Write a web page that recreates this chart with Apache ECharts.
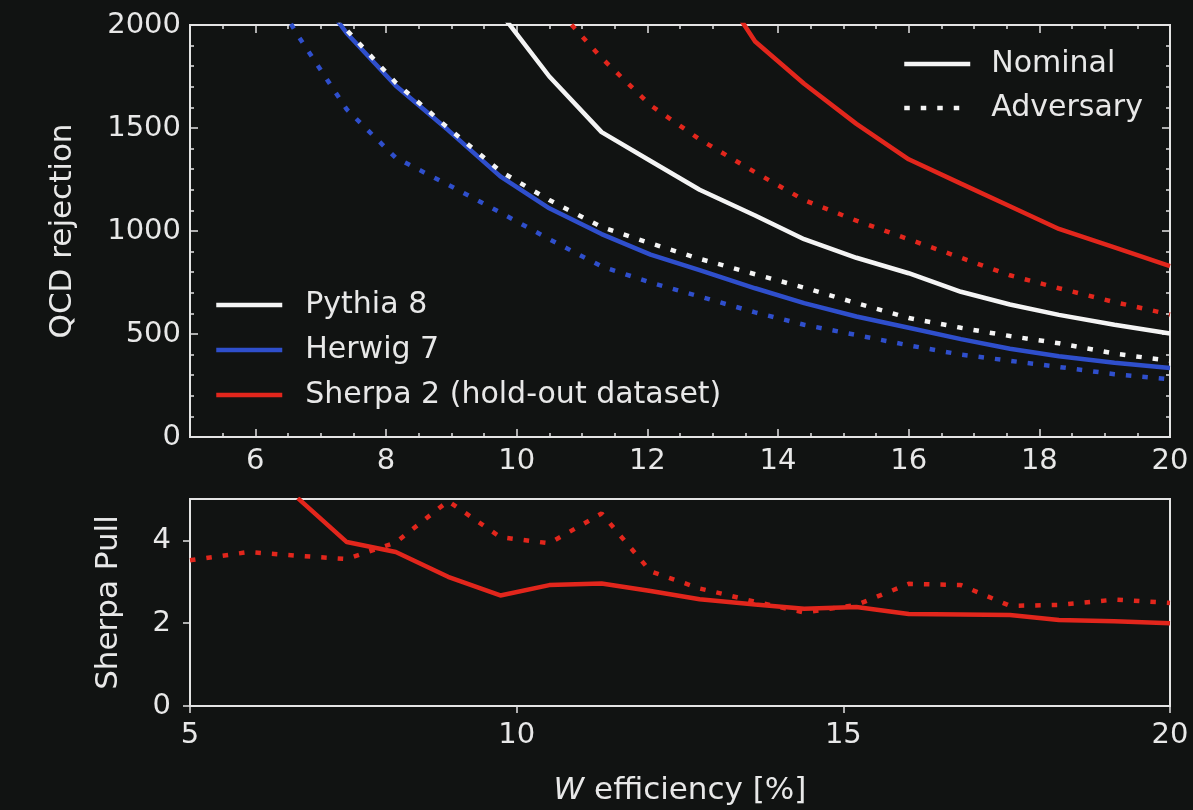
<!DOCTYPE html>
<html>
<head>
<meta charset="utf-8">
<script src="https://cdn.jsdelivr.net/npm/echarts@6/dist/echarts.min.js"></script>
<style>
  html, body { margin: 0; padding: 0; background: #111312; }
  #chart { width: 1193px; height: 810px; }
</style>
</head>
<body>
<div id="chart"></div>
<script>
// W efficiency [%] sample points shared by all curves
const effGrid = [5.0, 5.9, 6.65, 7.4, 8.15, 8.95, 9.75, 10.5, 11.3, 12.05, 12.8, 13.65, 14.4, 15.2, 16.0, 16.8, 17.55, 18.3, 19.15, 20.0]

// QCD rejection, nominal training
const pythiaNominal = [null, null, null, null, null, null, 2060, 1750, 1480, 1340, 1200, 1075, 960, 870, 795, 705, 643, 593, 545, 502]
const herwigNominal = [null, null, 2280, 1960, 1705, 1490, 1265, 1110, 985, 885, 810, 722, 650, 585, 530, 475, 428, 392, 360, 335]
const sherpaNominal = [null, null, null, null, null, null, null, null, null, null, 2330, 1920, 1715, 1520, 1348, 1230, 1120, 1010, 920, 830]

// QCD rejection, adversarial training
const pythiaAdversary = [null, null, 2290, 1975, 1720, 1500, 1290, 1150, 1020, 940, 865, 790, 725, 650, 578, 530, 490, 455, 405, 370]
const herwigAdversary = [null, 2350, 1950, 1590, 1355, 1225, 1090, 960, 828, 750, 682, 605, 545, 495, 445, 400, 370, 340, 305, 280]
const sherpaAdversary = [null, null, null, null, null, null, null, 2120, 1840, 1610, 1445, 1285, 1150, 1050, 960, 870, 785, 722, 655, 595]

// Sherpa pull
const pullNominal = [null, null, 5.02, 3.96, 3.72, 3.12, 2.67, 2.92, 2.96, 2.78, 2.58, 2.45, 2.35, 2.39, 2.22, 2.21, 2.2, 2.08, 2.05, 2.0]
const pullAdversary = [3.52, 3.72, 3.63, 3.55, 3.95, 4.95, 4.08, 3.93, 4.65, 3.25, 2.84, 2.52, 2.26, 2.44, 2.95, 2.92, 2.42, 2.44, 2.57, 2.49]

// tick labels
const topXTicks = [6, 8, 10, 12, 14, 16, 18, 20]
const bottomXTicks = [5, 10, 15, 20]
const pullTicks = [0, 2, 4]

const FONT = 'DejaVu Sans'
const TXT = '#e8e8e8'
const FRAME = '#e4e4e4'
const WHITE = '#f4f4f4'
const BLUE = '#2f4fcc'
const RED = '#e2261c'
const DOTS = [5.5, 11]

function pairs(vals) {
  const out = []
  vals.forEach((v, i) => {
    if (v != null) out.push([effGrid[i], v])
  })
  return out
}

function curve(name, vals, color, dotted, xi, yi) {
  return {
    name: name,
    type: 'line',
    xAxisIndex: xi,
    yAxisIndex: yi,
    data: pairs(vals),
    symbol: 'none',
    silent: true,
    lineStyle: {
      color: color,
      width: 4.5,
      type: dotted ? DOTS : 'solid',
      cap: 'butt'
    }
  }
}

const chart = echarts.init(document.getElementById('chart'))

const tickLabel = { color: TXT, fontSize: 29, fontFamily: FONT, formatter: (v) => String(v) }
const noLabel = { show: false }

const option = {
  backgroundColor: '#111312',
  animation: false,
  grid: [
    { left: 190, right: 23, top: 25, height: 412, show: true, borderColor: FRAME, borderWidth: 2, backgroundColor: 'transparent' },
    { left: 190, right: 23, top: 499, height: 207, show: true, borderColor: FRAME, borderWidth: 2, backgroundColor: 'transparent' }
  ],
  legend: [
    {
      data: ['Pythia 8', 'Herwig 7', 'Sherpa 2 (hold-out dataset)'],
      orient: 'vertical',
      left: 214,
      top: 290,
      padding: 0,
      itemGap: 15,
      itemWidth: 66,
      itemHeight: 14,
      selectedMode: false,
      itemStyle: { opacity: 0 },
      lineStyle: { width: 'inherit' },
      textStyle: { color: TXT, fontSize: 30, fontFamily: FONT, lineHeight: 30, padding: [0, 0, 0, 18] }
    },
    {
      data: ['Nominal', 'Adversary'],
      orient: 'vertical',
      left: 902,
      top: 49,
      padding: 0,
      itemGap: 14,
      itemWidth: 66,
      itemHeight: 14,
      selectedMode: false,
      itemStyle: { opacity: 0 },
      lineStyle: { width: 'inherit' },
      textStyle: { color: TXT, fontSize: 30, fontFamily: FONT, lineHeight: 30, padding: [0, 0, 0, 16] }
    }
  ],
  xAxis: [
    // top panel, bottom edge: every 0.5 short ticks + labels
    {
      type: 'value', gridIndex: 0, min: 5, max: 20, interval: 0.5, position: 'bottom',
      axisLine: { show: false },
      axisTick: { inside: true, length: 4, lineStyle: { color: FRAME, width: 1.5 } },
      axisLabel: { customValues: topXTicks, margin: 10, ...tickLabel },
      splitLine: { show: false }
    },
    // top panel, bottom edge: major ticks
    {
      type: 'value', gridIndex: 0, min: 5, max: 20, position: 'bottom',
      axisLine: { show: false },
      axisTick: { inside: true, length: 8, customValues: topXTicks, lineStyle: { color: FRAME, width: 1.5 } },
      axisLabel: noLabel,
      splitLine: { show: false }
    },
    // top panel, top edge mirrors
    {
      type: 'value', gridIndex: 0, min: 5, max: 20, interval: 0.5, position: 'top',
      axisLine: { show: false },
      axisTick: { inside: true, length: 4, lineStyle: { color: FRAME, width: 1.5 } },
      axisLabel: noLabel,
      splitLine: { show: false }
    },
    {
      type: 'value', gridIndex: 0, min: 5, max: 20, position: 'top',
      axisLine: { show: false },
      axisTick: { inside: true, length: 8, customValues: topXTicks, lineStyle: { color: FRAME, width: 1.5 } },
      axisLabel: noLabel,
      splitLine: { show: false }
    },
    // bottom panel
    {
      type: 'value', gridIndex: 1, min: 5, max: 20, interval: 5, position: 'bottom',
      axisLine: { show: false },
      axisTick: { inside: false, length: 7, customValues: bottomXTicks, lineStyle: { color: FRAME, width: 1.5 } },
      axisLabel: { margin: 15, customValues: bottomXTicks, ...tickLabel },
      splitLine: { show: false },
      name: '{i|W} efficiency [%]',
      nameLocation: 'middle',
      nameGap: 69,
      nameTextStyle: {
        color: TXT, fontSize: 31, fontFamily: FONT,
        rich: { i: { fontStyle: 'italic', color: TXT, fontSize: 31, fontFamily: FONT } }
      }
    }
  ],
  yAxis: [
    {
      type: 'value', gridIndex: 0, min: 0, max: 2000, interval: 500, position: 'left',
      axisLine: { show: false },
      axisTick: { inside: true, length: 8, lineStyle: { color: FRAME, width: 1.5 } },
      minorTick: { show: true, splitNumber: 5, length: 4, lineStyle: { color: FRAME, width: 1.5 } },
      axisLabel: { margin: 9, ...tickLabel },
      splitLine: { show: false },
      name: 'QCD rejection',
      nameLocation: 'middle',
      nameGap: 112,
      nameTextStyle: { color: TXT, fontSize: 31, fontFamily: FONT }
    },
    {
      type: 'value', gridIndex: 0, min: 0, max: 2000, interval: 500, position: 'right',
      axisLine: { show: false },
      axisTick: { inside: true, length: 8, lineStyle: { color: FRAME, width: 1.5 } },
      minorTick: { show: true, splitNumber: 5, length: 4, lineStyle: { color: FRAME, width: 1.5 } },
      axisLabel: noLabel,
      splitLine: { show: false }
    },
    {
      type: 'value', gridIndex: 1, min: 0, max: 5, position: 'left',
      axisLine: { show: false },
      axisTick: { inside: false, length: 7, customValues: pullTicks, lineStyle: { color: FRAME, width: 1.5 } },
      axisLabel: { margin: 19, customValues: pullTicks, ...tickLabel },
      splitLine: { show: false },
      name: 'Sherpa Pull',
      nameLocation: 'middle',
      nameGap: 66,
      nameTextStyle: { color: TXT, fontSize: 31, fontFamily: FONT }
    }
  ],
  series: [
    curve('Pythia 8', pythiaNominal, WHITE, false, 0, 0),
    curve('Herwig 7', herwigNominal, BLUE, false, 0, 0),
    curve('Sherpa 2 (hold-out dataset)', sherpaNominal, RED, false, 0, 0),
    curve('Pythia 8', pythiaAdversary, WHITE, true, 0, 0),
    curve('Herwig 7', herwigAdversary, BLUE, true, 0, 0),
    curve('Sherpa 2 (hold-out dataset)', sherpaAdversary, RED, true, 0, 0),
    // legend-only entries for the line styles
    curve('Nominal', [], WHITE, false, 0, 0),
    curve('Adversary', [], WHITE, true, 0, 0),
    curve('Sherpa pull nominal', pullNominal, RED, false, 4, 2),
    curve('Sherpa pull adversary', pullAdversary, RED, true, 4, 2)
  ]
}

chart.setOption(option)
</script>
</body>
</html>
